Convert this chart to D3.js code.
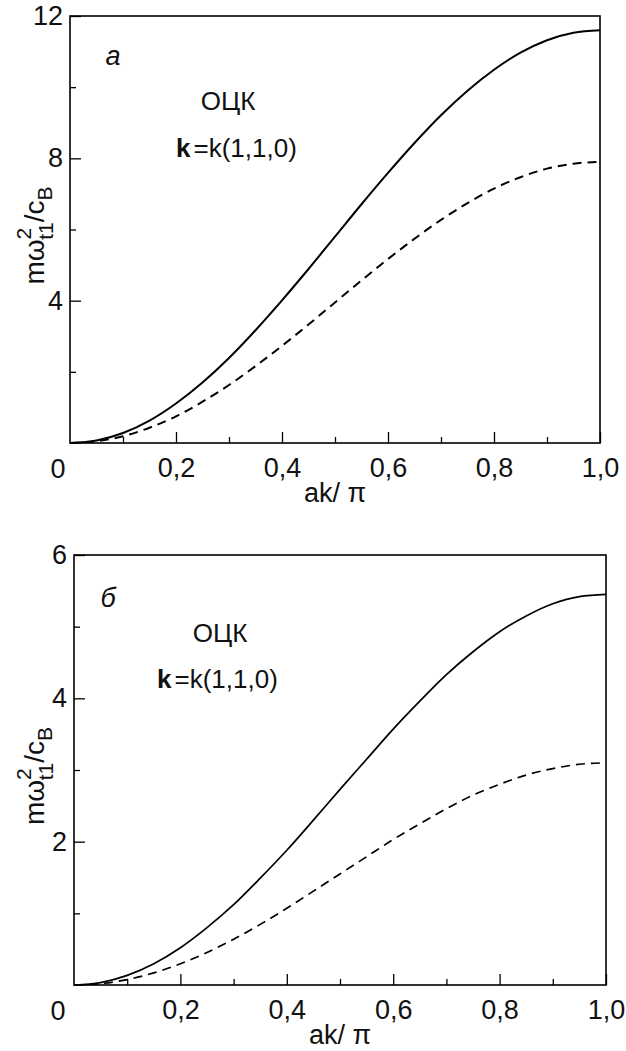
<!DOCTYPE html>
<html><head><meta charset="utf-8">
<script src="https://cdn.jsdelivr.net/npm/d3@7"></script>
<style>
html,body{margin:0;padding:0;background:#fff;}
svg{display:block;}
text{font-family:"Liberation Sans",Arial,sans-serif;fill:#111;}
</style></head>
<body>
<svg id="chart" width="626" height="1051"></svg>
<script>
// ---- data ----
const xValues = [0,0.05,0.1,0.15,0.2,0.25,0.3,0.35,0.4,0.45,0.5,0.55,0.6,0.65,0.7,0.75,0.8,0.85,0.9,0.95,1.0];
const solidA  = [0,0.07,0.28,0.63,1.11,1.70,2.39,3.17,4.01,4.89,5.80,6.71,7.59,8.43,9.21,9.90,10.49,10.97,11.32,11.53,11.6];
const dashedA = [0,0.05,0.19,0.43,0.75,1.16,1.63,2.16,2.73,3.33,3.95,4.57,5.17,5.74,6.27,6.74,7.15,7.47,7.71,7.85,7.9];
const solidB  = [0,0.034,0.134,0.297,0.52,0.80,1.12,1.49,1.88,2.30,2.73,3.15,3.57,3.96,4.33,4.65,4.93,5.15,5.32,5.42,5.45];
const dashedB = [0,0.019,0.076,0.169,0.296,0.454,0.639,0.846,1.07,1.31,1.55,1.79,2.03,2.25,2.46,2.65,2.80,2.93,3.02,3.08,3.1];
const xTickValues = [0.2,0.4,0.6,0.8,1.0];
const xMinorTicks = [0.1,0.3,0.5,0.7,0.9];
const yTicksA = [4,8,12];
const yMinorA = [2,6,10];
const yTicksB = [2,4,6];
const yMinorB = [1,3,5];
const panelLetters = ["a","б"];
const latticeLabel = "ОЦК";

const FS = 27;
const svg = d3.select("#chart");

function panel(cfg){
  const {left,right,top,bottom,yMax,yTicks,yMinor,solid,dashed,letter,lw} = cfg;
  const x = d3.scaleLinear().domain([0,1]).range([left,right]);
  const y = d3.scaleLinear().domain([0,yMax]).range([bottom,top]);
  const g = svg.append("g");
  const fmt = v => d3.format(".1f")(v).replace(".", ",");

  // curves
  const line = d3.line().x((d,i)=>x(xValues[i])).y(d=>y(d)).curve(d3.curveMonotoneX);
  g.append("path").datum(solid).attr("d",line).attr("fill","none").attr("stroke","#000").attr("stroke-width",lw);
  g.append("path").datum(dashed).attr("d",line).attr("fill","none").attr("stroke","#000").attr("stroke-width",lw).attr("stroke-dasharray","9,6");

  // bottom axis
  const xa = d3.axisBottom(x).tickValues(xTickValues).tickSizeInner(-11).tickSizeOuter(0).tickFormat(fmt).tickPadding(15);
  const gx = g.append("g").attr("transform",`translate(0,${bottom})`).call(xa);
  gx.select(".domain").remove();
  gx.selectAll("line").attr("stroke","#000").attr("stroke-width",1.3);
  gx.selectAll("text").attr("font-size",FS).attr("fill","#111").attr("font-family","Liberation Sans, Arial, sans-serif");
  const xm = d3.axisBottom(x).tickValues(xMinorTicks).tickSizeInner(-6).tickSizeOuter(0).tickFormat("");
  const gxm = g.append("g").attr("transform",`translate(0,${bottom})`).call(xm);
  gxm.select(".domain").remove();
  gxm.selectAll("line").attr("stroke","#000").attr("stroke-width",1.3);

  // left axis
  const ya = d3.axisLeft(y).tickValues(yTicks).tickSizeInner(-11).tickSizeOuter(0).tickFormat(d3.format("d")).tickPadding(7);
  const gy = g.append("g").attr("transform",`translate(${left},0)`).call(ya);
  gy.select(".domain").remove();
  gy.selectAll("line").attr("stroke","#000").attr("stroke-width",1.3);
  gy.selectAll("text").attr("font-size",FS).attr("fill","#111").attr("font-family","Liberation Sans, Arial, sans-serif");
  const ym = d3.axisLeft(y).tickValues(yMinor).tickSizeInner(-6).tickSizeOuter(0).tickFormat("");
  const gym = g.append("g").attr("transform",`translate(${left},0)`).call(ym);
  gym.select(".domain").remove();
  gym.selectAll("line").attr("stroke","#000").attr("stroke-width",1.3);

  // origin label
  g.append("text").attr("x",58).attr("y",bottom+35).attr("text-anchor","middle").attr("font-size",FS).text("0");

  // frame
  g.append("rect").attr("x",left).attr("y",top).attr("width",right-left).attr("height",bottom-top)
    .attr("fill","none").attr("stroke","#000").attr("stroke-width",1.6);

  // x label
  const xl = g.append("text").attr("x",(left+right)/2).attr("y",bottom+59).attr("text-anchor","middle").attr("font-size",FS);
  xl.append("tspan").text("ak/ ");
  xl.append("tspan").text("π");

  // y label
  const yc = (top+bottom)/2;
  const gl = g.append("g").attr("transform",`translate(44,${yc}) rotate(-90)`);
  const t = gl.append("text").attr("font-size",FS+1).attr("text-anchor","start");
  t.append("tspan").text("mω");
  t.append("tspan").attr("font-size",21).attr("dy",-13).text("2");
  t.append("tspan").attr("font-size",21).attr("dx",-12).attr("dy",22).text("t1");
  t.append("tspan").attr("dy",-9).text("/c");
  t.append("tspan").attr("font-size",21).attr("dy",8).text("B");
  const w = t.node().getComputedTextLength();
  t.attr("x",-w/2);

  // annotations
  g.append("text").attr("x",cfg.letterX).attr("y",cfg.letterY).attr("text-anchor","middle").attr("font-family","Liberation Serif, Times New Roman, serif")
    .attr("font-style","italic").attr("font-size",FS).attr("fill",cfg.letterColor).text(letter);
  g.append("text").attr("x",cfg.ockX).attr("y",cfg.ockY).attr("text-anchor","middle").attr("font-size",FS-1).text(latticeLabel);
  const kt = g.append("text").attr("x",cfg.kX).attr("y",cfg.kY).attr("font-size",FS-1);
  kt.append("tspan").attr("font-weight","bold").text("k");
  kt.append("tspan").attr("dx",3).text("=k(1,1,0)");
}

panel({left:70,right:600,top:16,bottom:443,yMax:12,yTicks:yTicksA,yMinor:yMinorA,solid:solidA,dashed:dashedA,
  letter:panelLetters[0],letterX:113,letterY:65,letterColor:"#222",ockX:228,ockY:110,kX:176,kY:157,lw:2});
panel({left:74,right:606,top:555,bottom:985,yMax:6,yTicks:yTicksB,yMinor:yMinorB,solid:solidB,dashed:dashedB,
  letter:panelLetters[1],letterX:108,letterY:607,letterColor:"#555",ockX:220,ockY:642,kX:157,kY:688,lw:1.7});
</script>
</body></html>
